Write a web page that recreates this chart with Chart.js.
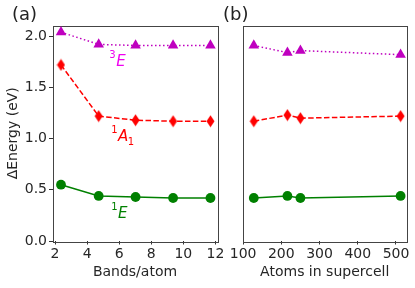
<!DOCTYPE html>
<html>
<head>
<meta charset="utf-8">
<script src="https://cdn.jsdelivr.net/npm/chart.js@4.4.0/dist/chart.umd.min.js"></script>
<style>
  html, body { margin: 0; padding: 0; background: #fff; }
  #wrap { position: relative; width: 415px; height: 288px; }
  #wrap canvas { position: absolute; left: 0; top: 0; }
</style>
</head>
<body>
<div id="wrap">
  <canvas id="chartA" width="415" height="288"></canvas>
  <canvas id="chartB" width="415" height="288"></canvas>
</div>
<script>
// panel (a) - energies vs number of bands per atom
const bandsPerAtom = [2.37, 4.72, 7.02, 9.36, 11.69];
const tripletBands = [2.04, 1.92, 1.91, 1.91, 1.91];   // 3E
const a1Bands = [1.72, 1.22, 1.18, 1.17, 1.17];        // 1A1
const singletBands = [0.55, 0.44, 0.43, 0.42, 0.42];   // 1E

// panel (b) - energies vs supercell size
const atomsInCell = [128, 216, 250, 512];
const tripletAtoms = [1.91, 1.84, 1.86, 1.82];
const a1Atoms = [1.17, 1.23, 1.20, 1.22];
const singletAtoms = [0.42, 0.44, 0.42, 0.44];

// tick labels
const bandTicks = [2, 4, 6, 8, 10, 12];
const atomTicks = [100, 200, 300, 400, 500];
const energyTicks = [0, 0.5, 1.0, 1.5, 2.0];

const FONT = "'DejaVu Sans', sans-serif";
const MAGENTA = '#bf00bf', RED = '#ff0000', GREEN = '#008000';

// thin diamond marker (matplotlib 'd'), chart.js has no such style
function thinDiamond(color) {
    const c = document.createElement('canvas');
    c.width = 9; c.height = 13;
    const g = c.getContext('2d');
    g.fillStyle = color;
    g.beginPath();
    g.moveTo(4.5, 0.5); g.lineTo(8.5, 6.5); g.lineTo(4.5, 12.5); g.lineTo(0.5, 6.5);
    g.closePath();
    g.fill();
    return c;
}
const diamond = thinDiamond(RED);

function pts(xs, ys) {
    return xs.map((x, i) => ({x: x, y: ys[i]}));
}

function series(data, color, style, dash, radius) {
    return {
        data: data,
        borderColor: color,
        backgroundColor: color,
        borderWidth: 1.5,
        borderDash: dash,
        pointStyle: style,
        pointRadius: radius,
        pointBorderWidth: 0,
        pointBackgroundColor: color,
        tension: 0
    };
}

// box around plot area + panel letter + state labels
const framePlugin = {
    id: 'frame',
    beforeDatasetsDraw(chart) {
        const {ctx, chartArea: a} = chart;
        ctx.save();
        ctx.strokeStyle = '#444';
        ctx.lineWidth = 1;
        ctx.strokeRect(Math.round(a.left) + 0.5, Math.round(a.top) + 0.5,
            Math.round(a.right - a.left), Math.round(a.bottom - a.top));
        ctx.restore();
    },
    afterDraw(chart, args, opts) {
        const ctx = chart.ctx;
        ctx.save();
        ctx.fillStyle = '#222';
        ctx.textBaseline = 'alphabetic';
        ctx.font = '18px ' + FONT;
        ctx.fillText(opts.panel, opts.panelX, 19.5);
        (opts.labels || []).forEach(l => {
            let px = chart.scales.x.getPixelForValue(l.x);
            const py = chart.scales.y.getPixelForValue(l.y);
            ctx.fillStyle = l.color;
            ctx.font = '10px ' + FONT;
            ctx.fillText(l.sup, px, py - 8);
            px += ctx.measureText(l.sup).width + 0.5;
            ctx.font = 'italic 15px ' + FONT;
            ctx.fillText(l.name, px, py);
            px += ctx.measureText(l.name).width - 0.5;
            if (l.sub) {
                ctx.font = '10px ' + FONT;
                ctx.fillText(l.sub, px, py + 4);
            }
        });
        ctx.restore();
    }
};

function xAxis(min, max, ticks, title) {
    return {
        type: 'linear',
        min: min, max: max,
        afterBuildTicks: s => { s.ticks = ticks.map(v => ({value: v})); },
        afterFit: s => { s.height = 47; },
        ticks: {color: '#262626', font: {family: FONT, size: 14}, padding: 1, maxRotation: 0,
            callback: v => String(v)},
        grid: {drawOnChartArea: false, color: '#333', tickLength: 3.5},
        border: {display: false},
        title: {display: true, text: title, color: '#262626',
            font: {family: FONT, size: 14}, padding: {top: 0, bottom: 7.6}}
    };
}

const common = {
    responsive: false,
    animation: false,
    devicePixelRatio: 1,
    plugins: {legend: {display: false}, tooltip: {enabled: false}}
};

new Chart(document.getElementById('chartA').getContext('2d'), {
    type: 'line',
    data: {datasets: [
        series(pts(bandsPerAtom, singletBands), GREEN, 'circle', [], 4.9),
        series(pts(bandsPerAtom, a1Bands), RED, diamond, [5.5, 2.4], 6),
        series(pts(bandsPerAtom, tripletBands), MAGENTA, 'triangle', [1.5, 2.5], 6.1)
    ]},
    options: Object.assign({}, common, {
        layout: {padding: {left: 0, top: 25.5, right: 197.5, bottom: 0}},
        plugins: Object.assign({}, common.plugins, {
            frame: {
                panel: '(a)', panelX: 12,
                labels: [
                    {x: 5.38, y: 1.71, sup: '3', name: 'E', sub: '', color: '#f000f0'},
                    {x: 5.5, y: 0.976, sup: '1', name: 'A', sub: '1', color: RED},
                    {x: 5.5, y: 0.22, sup: '1', name: 'E', sub: '', color: GREEN}
                ]
            }
        }),
        scales: {
            x: xAxis(1.84, 12.13, bandTicks, 'Bands/atom'),
            y: {
                type: 'linear',
                min: 0, max: 2.105,
                afterBuildTicks: s => { s.ticks = energyTicks.map(v => ({value: v})); },
                afterFit: s => { s.width = 52.5; },
                ticks: {color: '#262626', font: {family: FONT, size: 14}, padding: 2,
                    callback: v => v.toFixed(1)},
                grid: {drawOnChartArea: false, color: '#333', tickLength: 3.5},
                border: {display: false},
                title: {display: true, text: 'ΔEnergy (eV)', color: '#262626',
                    font: {family: FONT, size: 14}, padding: {top: 5, bottom: 0}}
            }
        }
    }),
    plugins: [framePlugin]
});

new Chart(document.getElementById('chartB').getContext('2d'), {
    type: 'line',
    data: {datasets: [
        series(pts(atomsInCell, singletAtoms), GREEN, 'circle', [], 4.9),
        series(pts(atomsInCell, a1Atoms), RED, diamond, [5.5, 2.4], 6),
        series(pts(atomsInCell, tripletAtoms), MAGENTA, 'triangle', [1.5, 2.5], 6.1)
    ]},
    options: Object.assign({}, common, {
        layout: {padding: {left: 242.7, top: 25.5, right: 8.3, bottom: 0}},
        plugins: Object.assign({}, common.plugins, {
            frame: {panel: '(b)', panelX: 223}
        }),
        scales: {
            x: xAxis(99, 528, atomTicks, 'Atoms in supercell'),
            y: {type: 'linear', display: false, min: 0, max: 2.105}
        }
    }),
    plugins: [framePlugin]
});
</script>
</body>
</html>
